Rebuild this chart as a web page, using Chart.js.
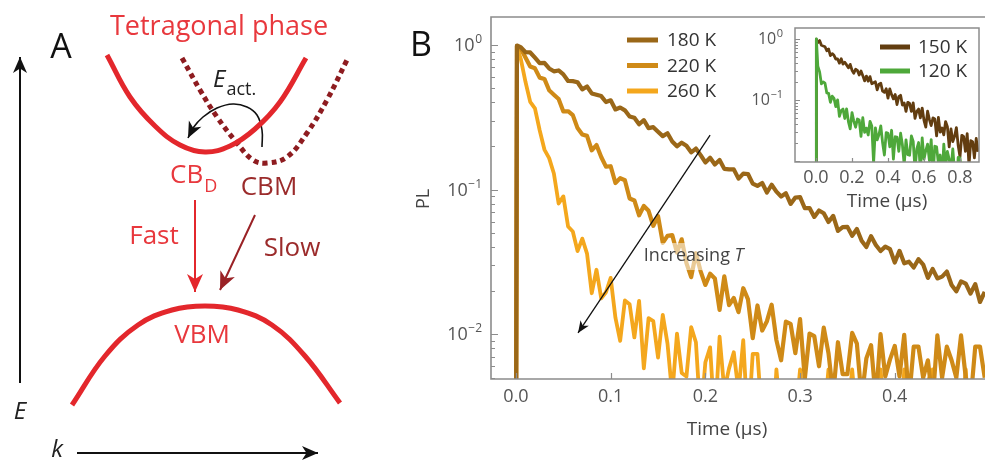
<!DOCTYPE html>
<html lang="en">
<head>
<meta charset="UTF-8" />
<title>PL decay</title>
<script src="https://cdn.jsdelivr.net/npm/chart.js@4.4.1/dist/chart.umd.min.js"></script>
<style>
  body { margin: 0; background: #fff; }
  #wrap { position: relative; width: 985px; height: 465px; overflow: hidden; }
  canvas { position: absolute; }
</style>
</head>
<body>
<div id="wrap">
  <canvas id="panelA" width="380" height="465" style="left:0;top:0"></canvas>
  <canvas id="panelB" width="605" height="465" style="left:380px;top:0"></canvas>
  <canvas id="inset" width="245" height="200" style="left:740px;top:20px"></canvas>
</div>
<script>
// ---------- panel A: band sketch (k, E in arbitrary units) ----------
const cbdK = [-0.98, -0.75, -0.5, -0.25, 0, 0.25, 0.5, 0.75, 1.01];
const cbdE = [2.45, 2.03, 1.74, 1.55, 1.48, 1.54, 1.71, 1.98, 2.42];
const cbmK = [-0.23, -0.05, 0.12, 0.32, 0.48, 0.62, 0.82, 1.02, 1.22, 1.42];
const cbmE = [2.42, 2.10, 1.83, 1.57, 1.40, 1.37, 1.43, 1.67, 2.00, 2.40];
const vbmK = [-1.33, -1.0, -0.67, -0.33, 0, 0.33, 0.67, 1.0, 1.35];
const vbmE = [-1.05, -0.56, -0.25, -0.10, -0.06, -0.10, -0.25, -0.56, -1.03];
const eAxisK = [-1.85, -1.85], eAxisE = [-0.83, 2.43];
const kAxisK = [-1.28, 1.13], kAxisE = [-1.53, -1.53];
const fastK = [-0.10, -0.10], fastE = [1.0, 0.08];
const slowK = [0.50, 0.15], slowE = [0.85, 0.10];
const actK = [0.57, 0.57, 0.52, 0.42, 0.28, 0.12, -0.02, -0.12, -0.17];
const actE = [1.53, 1.70, 1.85, 1.93, 1.96, 1.92, 1.83, 1.72, 1.62];

// ---------- panel B: PL decays ----------
const mainTimes = [0, 0.001,
  0.005, 0.010, 0.015, 0.020, 0.025, 0.030, 0.035, 0.040, 0.045, 0.050,
  0.055, 0.060, 0.065, 0.070, 0.075, 0.080, 0.085, 0.090, 0.095, 0.100,
  0.105, 0.110, 0.115, 0.120, 0.125, 0.130, 0.135, 0.140, 0.145, 0.150,
  0.155, 0.160, 0.165, 0.170, 0.175, 0.180, 0.185, 0.190, 0.195, 0.200,
  0.205, 0.210, 0.215, 0.220, 0.225, 0.230, 0.235, 0.240, 0.245, 0.250,
  0.255, 0.260, 0.265, 0.270, 0.275, 0.280, 0.285, 0.290, 0.295, 0.300,
  0.305, 0.310, 0.315, 0.320, 0.325, 0.330, 0.335, 0.340, 0.345, 0.350,
  0.355, 0.360, 0.365, 0.370, 0.375, 0.380, 0.385, 0.390, 0.395, 0.400,
  0.405, 0.410, 0.415, 0.420, 0.425, 0.430, 0.435, 0.440, 0.445, 0.450,
  0.455, 0.460, 0.465, 0.470, 0.475, 0.480, 0.485, 0.490, 0.495];
const pl180 = [0.001, 0.99,
  .966,.890,.887,.817,.749,.751,.688,.657,.666,.626,
  .563,.562,.552,.493,.516,.462,.452,.443,.403,.414,
  .358,.369,.353,.320,.314,.283,.302,.266,.270,.251,
  .234,.245,.215,.199,.211,.201,.181,.192,.173,.154,
  .166,.149,.160,.139,.138,.138,.119,.129,.128,.110,
  .106,.111,.0954,.108,.0968,.0895,.0943,.0796,.0881,.0886,
  .0743,.0745,.0647,.0716,.0686,.0597,.0658,.0518,.0550,.0552,
  .0479,.0534,.0443,.0401,.0476,.0414,.0376,.0403,.0387,.0313,
  .0377,.0309,.0317,.0289,.0330,.0303,.0245,.0283,.0243,.0250,
  .0271,.0219,.0198,.0232,.0224,.0191,.0222,.0167,.0196];
const pl220 = [0.001, 0.98,
  .944,.820,.709,.689,.594,.582,.486,.453,.423,.347,
  .348,.327,.266,.240,.235,.187,.203,.168,.144,.145,
  .111,.120,.116,.0868,.0841,.0664,.0770,.0713,.0561,.0656,
  .0428,.0479,.0484,.0367,.0453,.0310,.0248,.0363,.0272,.0219,
  .0262,.0243,.0147,.0251,.0159,.0178,.0142,.0208,.0174,.0094,
  .0158,.0106,.0123,.0160,.0091,.0066,.0122,.0118,.0074,.0127,
  .0049,.0101,.0097,.0060,.0111,.0074,.0038,.0088,.0053,.0053,
  .0102,.0086,.0036,.0068,.0084,.0035,.0100,.0051,.0067,.0083,
  .0051,.0099,.0035,.0082,.0082,.0050,.0066,.0034,.0098,.0050,
  .0082,.0066,.0050,.0098,.0050,.0034,.0082,.0082,.0050];
const pl260 = [0.001, 0.97,
  .803,.556,.404,.364,.257,.189,.165,.129,.0800,.0897,
  .0555,.0513,.0375,.0458,.0361,.0192,.0279,.0177,.0195,.0245,
  .0130,.0090,.0171,.0161,.0095,.0170,.0058,.0129,.0123,.0069,
  .0136,.0086,.0038,.0101,.0054,.0051,.0112,.0088,.0026,.0064,
  .0081,.0024,.0096,.0041,.0058,.0075,.0040,.0091,.0022,.0073,
  .0073,.0025,.0036,.0014,.0057,.0025,.0047,.0036,.0025,.0057,
  .0025,.0014,.0047,.0047,.0025,.0057,.0036,.0014,.0047,.0025,
  .0057,.0025,.0036,.0047,.0014,.0047,.0057,.0025,.0025,.0047,
  .0014,.0057,.0036,.0025,.0047,.0014,.0047,.0057,.0025,.0036,
  .0014,.0047,.0047,.0025,.0057,.0014,.0036,.0047,.0025];

// inset
const insetTimes = [0, 0.002,
  0.01, 0.02, 0.03, 0.04, 0.05, 0.06, 0.07, 0.08, 0.09, 0.10,
  0.11, 0.12, 0.13, 0.14, 0.15, 0.16, 0.17, 0.18, 0.19, 0.20,
  0.21, 0.22, 0.23, 0.24, 0.25, 0.26, 0.27, 0.28, 0.29, 0.30,
  0.31, 0.32, 0.33, 0.34, 0.35, 0.36, 0.37, 0.38, 0.39, 0.40,
  0.41, 0.42, 0.43, 0.44, 0.45, 0.46, 0.47, 0.48, 0.49, 0.50,
  0.51, 0.52, 0.53, 0.54, 0.55, 0.56, 0.57, 0.58, 0.59, 0.60,
  0.61, 0.62, 0.63, 0.64, 0.65, 0.66, 0.67, 0.68, 0.69, 0.70,
  0.71, 0.72, 0.73, 0.74, 0.75, 0.76, 0.77, 0.78, 0.79, 0.80,
  0.81, 0.82, 0.83, 0.84, 0.85, 0.86, 0.87, 0.88, 0.89, 0.90];
const pl150 = [0.001, 0.99,
  .868,.940,.786,.766,.745,.641,.682,.532,.574,.538,
  .466,.469,.401,.474,.387,.414,.375,.337,.383,.307,
  .274,.318,.305,.256,.298,.250,.205,.246,.203,.241,
  .184,.191,.198,.146,.181,.188,.139,.133,.152,.107,
  .152,.122,.104,.123,.0841,.113,.119,.0824,.0890,.0647,
  .0914,.0875,.0649,.0897,.0498,.0650,.0708,.0508,.0735,.0462,
  .0359,.0653,.0475,.0380,.0507,.0486,.0257,.0515,.0296,.0347,
  .0268,.0442,.0364,.0170,.0335,.0208,.0253,.0351,.0178,.0117,
  .0263,.0252,.0144,.0280,.0084,.0215,.0207,.0112,.0233,.0141];
const pl120 = [0.001, 1.0,
  .358,.288,.183,.197,.188,.130,.128,.0913,.115,.106,
  .0776,.0998,.0540,.067,.0707,.0496,.0714,.0440,.0335,.0621,
  .045,.0357,.0486,.047,.0252,.051,.0294,.0345,.0266,.0445,
  .0372,.0092,.0349,.0221,.027,.0375,.0198,.0125,.0292,.0283,
  .0170,.0318,.0107,.0249,.0245,.0143,.0284,.0184,.0086,.0222,
  .0127,.0124,.0257,.0209,.0072,.0158,.0200,.0067,.0238,.0107,
  .0148,.0188,.0101,.0223,.0055,.0174,.0170,.0090,.0125,.0049,
  .0189,.0080,.0143,.0106,.0071,.0157,.0066,.0036,.0114,.0112,
  .0060,.0072,.0050,.0068,.0045,.0062,.0050,.0058,.0044,.0055];

const mainTicks = [0.0, 0.1, 0.2, 0.3, 0.4];
const insetTicks = [0.0, 0.2, 0.4, 0.6, 0.8];

const fam = "'Open Sans', 'Noto Sans', sans-serif";
const red = '#e3272c', darkRed = '#8e1c20';
const c180 = '#9a6718', c220 = '#cf8a17', c260 = '#f4a71d';
const c150 = '#623d10', c120 = '#4ea83a';
const axisGray = '#8c8c8c', tickText = '#555';

function pairs(xs, ys) { return xs.map((v, i) => ({ x: v, y: ys[i] })); }

function arrowHead(ctx, x0, y0, x1, y1, len, half, color) {
  const a = Math.atan2(y1 - y0, x1 - x0);
  ctx.save();
  ctx.translate(x1, y1);
  ctx.rotate(a);
  ctx.fillStyle = color;
  ctx.beginPath();
  ctx.moveTo(0, 0);
  ctx.lineTo(-len, -half);
  ctx.lineTo(-len * 0.72, 0);
  ctx.lineTo(-len, half);
  ctx.closePath();
  ctx.fill();
  ctx.restore();
}

// ---------- panel A chart ----------
const labelsA = [
  { text: 'Tetragonal phase', k: 0.14, e: 2.73, size: 27, color: '#e8383d' },
  { text: 'A', k: -1.44, e: 2.52, size: 34, color: '#111' },
  { text: 'E', k: -1.85, e: -1.12, size: 24, italic: true, color: '#222' },
  { text: 'k', k: -1.48, e: -1.50, size: 24, italic: true, color: '#222' },
  { text: 'E', k: 0.08, e: 2.20, size: 24, italic: true, color: '#222', align: 'left', sub: 'act.', subSize: 18, subDy: 10 },
  { text: 'CB', k: -0.35, e: 1.24, size: 26, color: '#e8383d', align: 'left', sub: 'D', subSize: 18, subDy: 11 },
  { text: 'CBM', k: 0.64, e: 1.12, size: 26, color: '#9b2b2b' },
  { text: 'Fast', k: -0.51, e: 0.63, size: 26, color: '#e8383d' },
  { text: 'Slow', k: 0.87, e: 0.51, size: 26, color: '#9b2b2b' },
  { text: 'VBM', k: -0.03, e: -0.36, size: 26, color: '#e8383d' }
];

const panelADecor = {
  id: 'panelADecor',
  afterDatasetsDraw(chart) {
    const { ctx, scales: { x, y } } = chart;
    chart.data.datasets.forEach((ds, i) => {
      if (!ds.head) return;
      const pts = chart.getDatasetMeta(i).data;
      const p0 = pts[pts.length - 2], p1 = pts[pts.length - 1];
      arrowHead(ctx, p0.x, p0.y, p1.x, p1.y, ds.head[0], ds.head[1], ds.borderColor);
    });
    ctx.save();
    ctx.textBaseline = 'middle';
    labelsA.forEach(l => {
      const px = x.getPixelForValue(l.k), py = y.getPixelForValue(l.e);
      ctx.font = (l.italic ? 'italic ' : '') + l.size + 'px ' + fam;
      ctx.fillStyle = l.color;
      ctx.textAlign = l.align || 'center';
      ctx.fillText(l.text, px, py);
      if (l.sub) {
        const w = ctx.measureText(l.text).width;
        ctx.font = l.subSize + 'px ' + fam;
        ctx.textAlign = 'left';
        ctx.fillText(l.sub, px + w + 1, py + l.subDy);
      }
    });
    ctx.restore();
  }
};

function bandSet(xs, ys, color, width, extra) {
  return Object.assign({
    data: pairs(xs, ys), borderColor: color, borderWidth: width,
    showLine: true, pointRadius: 0, tension: 0.4, clip: false, fill: false
  }, extra || {});
}

new Chart(document.getElementById('panelA'), {
  type: 'scatter',
  data: {
    datasets: [
      bandSet(cbdK, cbdE, red, 5),
      bandSet(cbmK, cbmE, darkRed, 5, { borderDash: [5, 4] }),
      bandSet(vbmK, vbmE, red, 5),
      bandSet(eAxisK, eAxisE, '#111', 2, { tension: 0, head: [16, 7] }),
      bandSet(kAxisK, kAxisE, '#111', 2, { tension: 0, head: [16, 7] }),
      bandSet(fastK, fastE, red, 2, { tension: 0, head: [18, 8] }),
      bandSet(slowK, slowE, '#9a2226', 2, { tension: 0, head: [18, 8] }),
      bandSet(actK, actE, '#111', 1.6, { head: [16, 7] })
    ]
  },
  options: {
    responsive: false, animation: false,
    layout: { padding: 0 },
    plugins: { legend: { display: false }, tooltip: { enabled: false } },
    scales: {
      x: { type: 'linear', display: false, min: -2.05, max: 1.75 },
      y: { type: 'linear', display: false, min: -1.65, max: 3.0 }
    }
  },
  plugins: [panelADecor]
});

// ---------- shared helpers for log panels ----------
function drawPow(ctx, xRight, yMid, exp, size, supSize, color) {
  ctx.fillStyle = color;
  ctx.textBaseline = 'middle';
  ctx.textAlign = 'right';
  const supTxt = exp === 0 ? '0' : '\u2212' + Math.abs(exp);
  ctx.font = supSize + 'px ' + fam;
  const sw = ctx.measureText(supTxt).width;
  ctx.fillText(supTxt, xRight, yMid - size * 0.3);
  ctx.font = size + 'px ' + fam;
  ctx.fillText('10', xRight - sw - 0.5, yMid + 1);
}

function xLabels(ctx, x, ticks, yMid, size) {
  ctx.fillStyle = tickText;
  ctx.textAlign = 'center';
  ctx.textBaseline = 'middle';
  ctx.font = size + 'px ' + fam;
  ticks.forEach(t => ctx.fillText(t.toFixed(1), x.getPixelForValue(t), yMid));
}

function innerTicks(ctx, x, y, xTicks, decades, majLen, minLen, xLen) {
  const a = x.chart.chartArea;
  ctx.strokeStyle = axisGray;
  ctx.lineWidth = 1.2;
  ctx.beginPath();
  decades.forEach(d => {
    for (let m = 1; m <= 9; m++) {
      const v = m * Math.pow(10, d);
      if (v < y.min || v > y.max) continue;
      const py = Math.round(y.getPixelForValue(v)) + 0.5;
      ctx.moveTo(a.left, py);
      ctx.lineTo(a.left + (m === 1 ? majLen : minLen), py);
    }
  });
  xTicks.forEach(t => {
    const px = Math.round(x.getPixelForValue(t)) + 0.5;
    ctx.moveTo(px, a.bottom);
    ctx.lineTo(px, a.bottom - xLen);
  });
  ctx.stroke();
}

function decaySet(times, vals, color, width) {
  return {
    data: pairs(times, vals), borderColor: color, borderWidth: width,
    showLine: true, pointRadius: 0, tension: 0, clip: 0,
    borderJoinStyle: 'round', fill: false
  };
}

// ---------- panel B main chart ----------
const arrowFrom = { t: 0.205, pl: 0.238 };
const arrowTo = { t: 0.0655, pl: 0.0102 };
const incLabel = { t: 0.135, pl: 0.0347 };
const mainLegend = [
  { text: '180 K', color: c180 }, { text: '220 K', color: c220 }, { text: '260 K', color: c260 }
];

const panelBDecor = {
  id: 'panelBDecor',
  afterDatasetsDraw(chart) {
    const { ctx, scales: { x, y } } = chart;
    ctx.save();
    const lx = x.getPixelForValue(incLabel.t), ly = y.getPixelForValue(incLabel.pl);
    ctx.font = '18px ' + fam;
    const w1 = ctx.measureText('Increasing ').width;
    ctx.font = 'italic 18px ' + fam;
    const w2 = ctx.measureText('T').width;
    ctx.fillStyle = 'rgba(255,255,255,0.55)';
    ctx.fillRect(lx - 1, ly - 13, w1 + w2 + 4, 27);
    ctx.fillStyle = '#444';
    ctx.textBaseline = 'middle';
    ctx.textAlign = 'left';
    ctx.font = '18px ' + fam;
    ctx.fillText('Increasing ', lx, ly);
    ctx.font = 'italic 18px ' + fam;
    ctx.fillText('T', lx + w1, ly);
    const ax0 = x.getPixelForValue(arrowFrom.t), ay0 = y.getPixelForValue(arrowFrom.pl);
    const ax1 = x.getPixelForValue(arrowTo.t), ay1 = y.getPixelForValue(arrowTo.pl);
    ctx.strokeStyle = '#111';
    ctx.lineWidth = 1.3;
    ctx.beginPath();
    ctx.moveTo(ax0, ay0);
    ctx.lineTo(ax1, ay1);
    ctx.stroke();
    arrowHead(ctx, ax0, ay0, ax1, ay1, 12, 5, '#111');
    ctx.restore();
  },
  afterDraw(chart) {
    const { ctx, chartArea: a, scales: { x, y } } = chart;
    ctx.save();
    // frame: left, bottom, top (right side runs off the figure)
    ctx.strokeStyle = axisGray;
    ctx.lineWidth = 1.6;
    ctx.beginPath();
    ctx.moveTo(a.right, a.top); ctx.lineTo(a.left, a.top);
    ctx.lineTo(a.left, a.bottom); ctx.lineTo(a.right, a.bottom);
    ctx.stroke();
    innerTicks(ctx, x, y, mainTicks, [-3, -2, -1, 0], 7, 4, 6);
    [0, -1, -2].forEach(e => drawPow(ctx, a.left - 9, y.getPixelForValue(Math.pow(10, e)), e, 18, 12, tickText));
    xLabels(ctx, x, mainTicks, a.bottom + 18, 18);
    // axis titles
    ctx.fillStyle = '#444';
    ctx.textAlign = 'center';
    ctx.textBaseline = 'middle';
    ctx.font = '19px ' + fam;
    ctx.fillText('Time (\u00b5s)', 347, 430);
    ctx.save();
    ctx.translate(44, 199);
    ctx.rotate(-Math.PI / 2);
    ctx.font = '18px ' + fam;
    ctx.fillText('PL', 0, 0);
    ctx.restore();
    // panel letter
    ctx.fillStyle = '#111';
    ctx.font = '34px ' + fam;
    ctx.fillText('B', 41, 46);
    // legend
    mainLegend.forEach((l, i) => {
      const ly = 40 + i * 25.5;
      ctx.strokeStyle = l.color;
      ctx.lineWidth = 5;
      ctx.beginPath();
      ctx.moveTo(247, ly); ctx.lineTo(278, ly);
      ctx.stroke();
      ctx.fillStyle = '#333';
      ctx.textAlign = 'left';
      ctx.font = '19px ' + fam;
      ctx.fillText(l.text, 287, ly + 1);
    });
    ctx.restore();
  }
};

new Chart(document.getElementById('panelB'), {
  type: 'scatter',
  data: {
    datasets: [
      decaySet(mainTimes, pl180, c180, 4.2),
      decaySet(mainTimes, pl220, c220, 4.2),
      decaySet(mainTimes, pl260, c260, 3.8)
    ]
  },
  options: {
    responsive: false, animation: false,
    layout: { padding: { top: 17, left: 0, right: 0, bottom: 0 } },
    plugins: { legend: { display: false }, tooltip: { enabled: false } },
    scales: {
      x: {
        type: 'linear', bounds: 'data', min: -0.0264, max: 0.4953,
        grid: { display: false }, border: { display: false },
        ticks: { display: false },
        afterFit: s => { s.height = 86; }
      },
      y: {
        type: 'logarithmic', bounds: 'data', min: 0.0049, max: 1.56,
        grid: { display: false }, border: { display: false },
        ticks: { display: false },
        afterFit: s => { s.width = 111; }
      }
    }
  },
  plugins: [panelBDecor]
});

// ---------- inset chart ----------
const insetLegend = [{ text: '150 K', color: c150 }, { text: '120 K', color: c120 }];

const insetDecor = {
  id: 'insetDecor',
  afterDraw(chart) {
    const { ctx, chartArea: a, scales: { x, y } } = chart;
    ctx.save();
    ctx.strokeStyle = axisGray;
    ctx.lineWidth = 1.5;
    ctx.strokeRect(a.left, a.top, a.right - a.left, a.bottom - a.top);
    innerTicks(ctx, x, y, insetTicks, [-2, -1, 0], 5, 3, 4);
    [0, -1].forEach(e => drawPow(ctx, a.left - 12, y.getPixelForValue(Math.pow(10, e)), e, 16, 11, tickText));
    xLabels(ctx, x, insetTicks, a.bottom + 16, 18);
    ctx.fillStyle = '#444';
    ctx.textAlign = 'center';
    ctx.textBaseline = 'middle';
    ctx.font = '19px ' + fam;
    ctx.fillText('Time (\u00b5s)', 147, 182);
    insetLegend.forEach((l, i) => {
      const ly = 27 + i * 24;
      ctx.strokeStyle = l.color;
      ctx.lineWidth = 5;
      ctx.beginPath();
      ctx.moveTo(140, ly); ctx.lineTo(170, ly);
      ctx.stroke();
      ctx.fillStyle = '#333';
      ctx.textAlign = 'left';
      ctx.font = '19px ' + fam;
      ctx.fillText(l.text, 178, ly + 1);
    });
    ctx.restore();
  }
};

new Chart(document.getElementById('inset'), {
  type: 'scatter',
  data: {
    datasets: [
      decaySet(insetTimes, pl120, c120, 2.8),
      decaySet(insetTimes, pl150, c150, 2.8)
    ]
  },
  options: {
    responsive: false, animation: false,
    layout: { padding: { top: 8, left: 0, right: 6, bottom: 0 } },
    plugins: { legend: { display: false }, tooltip: { enabled: false } },
    scales: {
      x: {
        type: 'linear', bounds: 'data', min: -0.1167, max: 0.9056,
        grid: { display: false }, border: { display: false },
        ticks: { display: false },
        afterFit: s => { s.height = 58; }
      },
      y: {
        type: 'logarithmic', bounds: 'data', min: 0.0096, max: 1.51,
        grid: { display: false }, border: { display: false },
        ticks: { display: false },
        afterFit: s => { s.width = 55; }
      }
    }
  },
  plugins: [insetDecor]
});
</script>
</body>
</html>
